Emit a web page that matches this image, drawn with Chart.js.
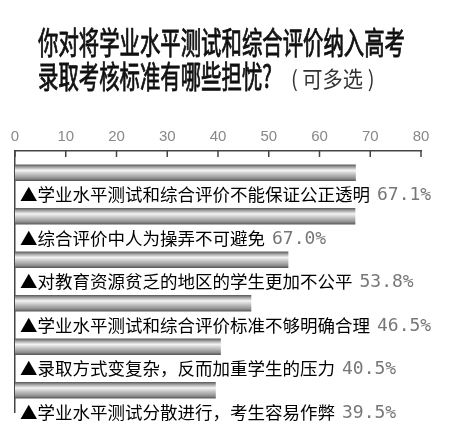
<!DOCTYPE html>
<html>
<head>
<meta charset="utf-8">
<script src="https://cdn.jsdelivr.net/npm/chart.js@4/dist/chart.umd.min.js"></script>
<style>
  body { margin: 0; background: #fff; }
  canvas { display: block; }
</style>
</head>
<body>
<canvas id="c" width="450" height="443"></canvas>
<script>
const TITLE_LINES = [ '你对将学业水平测试和综合评价纳入高考', '录取考核标准有哪些担忧?' ];
const TITLE_NOTE  = '( 可多选 )';

const categories = [
    '学业水平测试和综合评价不能保证公正透明',
    '综合评价中人为操弄不可避免',
    '对教育资源贫乏的地区的学生更加不公平',
    '学业水平测试和综合评价标准不够明确合理',
    '录取方式变复杂，反而加重学生的压力',
    '学业水平测试分散进行，考生容易作弊',
];
const values = [ 67.1, 67.0, 53.8, 46.5, 40.5, 39.5 ];
const xTicks = [ 0, 10, 20, 30, 40, 50, 60, 70, 80 ];

const CJK = '"Noto Sans CJK SC", "Noto Sans", sans-serif';

function barGradient( ctx ) {
    const chart = ctx.chart;
    if ( ! chart.chartArea || ctx.dataIndex === undefined ) return '#aaa';
    const y = chart.scales.y.getPixelForValue( ctx.dataIndex );
    const g = chart.ctx.createLinearGradient( 0, y - 8, 0, y + 8 );
    g.addColorStop( 0,    '#5e5e5e' );
    g.addColorStop( 0.15, '#a4a4a4' );
    g.addColorStop( 0.35, '#f4f4f4' );
    g.addColorStop( 0.55, '#cacaca' );
    g.addColorStop( 0.85, '#909090' );
    g.addColorStop( 1,    '#5a5a5a' );
    return g;
}

// title, inward tick marks and the row labels under each bar
const decorations = {
    id: 'decorations',
    afterDraw( chart ) {
        const c = chart.ctx;
        const xs = chart.scales.x, ys = chart.scales.y;
        const top = chart.chartArea.top;
        c.save();

        // condensed heading, squeezed to the reference width
        c.fillStyle = '#111';
        c.strokeStyle = '#111';
        c.lineWidth = 0.9;
        c.textBaseline = 'middle';
        c.textAlign = 'left';
        c.font = '31px ' + CJK;
        const sx = 367 / c.measureText( TITLE_LINES[ 0 ] ).width;
        c.save();
        c.translate( 38, 0 );
        c.scale( sx, 1 );
        TITLE_LINES.forEach( ( line, i ) => {
            c.fillText( line, 0, 42 + i * 34 );
            c.strokeText( line, 0, 42 + i * 34 );
        } );
        c.restore();

        c.save();
        c.translate( 291, 0 );
        c.scale( 0.92, 1 );
        c.font = '22px ' + CJK;
        c.fillStyle = '#333';
        c.fillText( TITLE_NOTE, 0, 79 );
        c.restore();

        c.strokeStyle = '#444';
        c.lineWidth = 1.5;
        xTicks.forEach( ( v ) => {
            const x = xs.getPixelForValue( v );
            c.beginPath();
            c.moveTo( x, top );
            c.lineTo( x, top + 6 );
            c.stroke();
        } );

        categories.forEach( ( label, i ) => {
            const y = ys.getPixelForValue( i ) + 22;
            c.font = '17.5px ' + CJK;
            c.fillStyle = '#000';
            const text = '▲' + label;
            c.fillText( text, 20, y );
            const tw = c.measureText( text ).width;
            c.font = '18px "DejaVu Sans Mono", monospace';
            c.fillStyle = '#777';
            c.fillText( values[ i ].toFixed( 1 ) + '%', 20 + tw + 7, y + 1 );
        } );
        c.restore();
    },
};

new Chart( document.getElementById( 'c' ), {
    type: 'bar',
    data: {
        labels: categories,
        datasets: [ {
            data: values,
            backgroundColor: barGradient,
            barThickness: 16,
        } ],
    },
    options: {
        indexAxis: 'y',
        responsive: false,
        animation: false,
        layout: { padding: { left: 15, right: 29, top: 123, bottom: 31 } },
        plugins: { legend: { display: false }, tooltip: { enabled: false } },
        scales: {
            x: {
                position: 'top',
                min: 0,
                max: 80,
                afterBuildTicks: ( s ) => { s.ticks = xTicks.map( ( v ) => ( { value: v } ) ); },
                ticks: { color: '#888', font: { size: 15, family: 'Liberation Sans' }, padding: 5, maxRotation: 0 },
                grid: { display: false, drawTicks: false },
                border: { display: true, color: '#444', width: 1.5 },
            },
            y: {
                ticks: { display: false },
                grid: { display: false, drawTicks: false },
                border: { display: true, color: '#444', width: 1.5 },
                afterFit: ( s ) => { s.width = 0; },
            },
        },
    },
    plugins: [ decorations ],
} );
</script>
</body>
</html>
